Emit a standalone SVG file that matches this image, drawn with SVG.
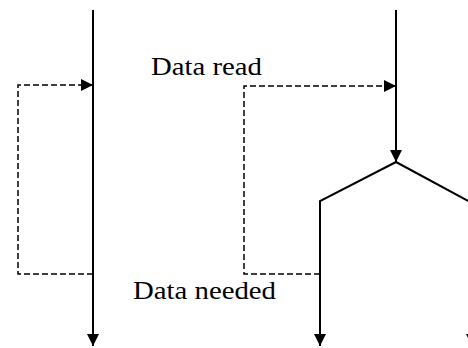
<svg xmlns="http://www.w3.org/2000/svg" width="468" height="348" viewBox="0 0 468 348">
<defs>
<marker id="ahd" viewBox="0 0 10 10" refX="10" refY="5" markerWidth="12" markerHeight="12" markerUnits="userSpaceOnUse" orient="auto"><path d="M0,0 L10,5 L0,10 z" fill="#000"/></marker>
</defs>
<style>
.solid{fill:none;stroke:#000;stroke-width:2}
.dash{fill:none;stroke:#000;stroke-width:1.5;stroke-dasharray:6,3}
text{font-family:"Liberation Serif","Times New Roman",serif;font-size:25px;fill:#000}
</style>
<g id="connectors">
<path class="solid" d="M93,10 V346" marker-end="url(#ahd)"/>
<path class="solid" d="M396,10 V162" marker-end="url(#ahd)"/>
<path class="solid" d="M396,162 L320,201 V346" marker-end="url(#ahd)"/>
<path class="solid" d="M396,162 L472,203 V346" marker-end="url(#ahd)"/>
<path class="dash" d="M93,274 H18 V85 H93" marker-end="url(#ahd)"/>
<path class="dash" d="M320,274 H244 V86 H396" marker-end="url(#ahd)"/>
</g>
<g id="label-read"><text x="151" y="75" textLength="111" lengthAdjust="spacingAndGlyphs">Data read</text></g>
<g id="label-needed"><text x="133" y="299" textLength="143" lengthAdjust="spacingAndGlyphs">Data needed</text></g>
</svg>
